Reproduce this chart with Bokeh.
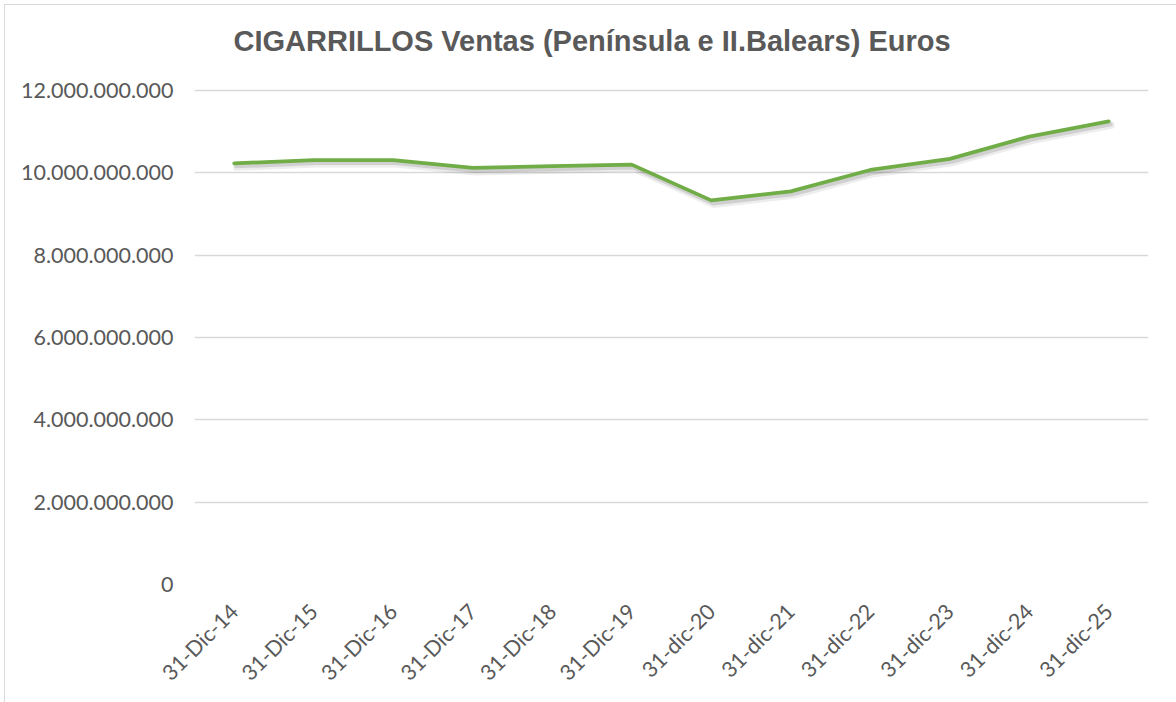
from bokeh.plotting import figure
from bokeh.models import ColumnDataSource, FactorRange, FixedTicker, Range1d, Label
from bokeh.transform import dodge
from bokeh.embed import file_html
from bokeh.resources import INLINE

# ---- data ----
categories = ["31-Dic-14", "31-Dic-15", "31-Dic-16", "31-Dic-17", "31-Dic-18", "31-Dic-19",
              "31-dic-20", "31-dic-21", "31-dic-22", "31-dic-23", "31-dic-24", "31-dic-25"]
ventas = [10.23e9, 10.31e9, 10.31e9, 10.12e9, 10.16e9, 10.20e9,
          9.33e9, 9.55e9, 10.07e9, 10.34e9, 10.88e9, 11.25e9]
y_ticks = [0, 2e9, 4e9, 6e9, 8e9, 10e9, 12e9]
y_tick_labels = ["0", "2.000.000.000", "4.000.000.000", "6.000.000.000",
                 "8.000.000.000", "10.000.000.000", "12.000.000.000"]
title_text = "CIGARRILLOS Ventas (Península e II.Balears) Euros"

Y_MAX = 12e9
W, H = 1176, 702
ML, MR, MT, MB = 194, 28, 10, 118
PLOT_TOP = 90                      # pixel row of the top gridline
plot_h = H - MB - PLOT_TOP
px = Y_MAX / plot_h
y_end = Y_MAX + (PLOT_TOP - MT) * px

src = ColumnDataSource(dict(x=categories, y=ventas))
shadow = ColumnDataSource(dict(x=categories,
                               y1=[v - 3 * px for v in ventas],
                               y2=[v - 4 * px for v in ventas]))

p = figure(width=W, height=H, x_range=FactorRange(factors=categories),
           y_range=Range1d(0, y_end), output_backend="svg", toolbar_location=None,
           min_border_left=ML, min_border_right=MR, min_border_top=MT, min_border_bottom=MB)
p.outline_line_color = None
p.border_fill_color = None
p.styles = {
    "background": ("linear-gradient(#d9d9d9,#d9d9d9) 4px 4px / 1px 100% no-repeat, "
                   "linear-gradient(#d9d9d9,#d9d9d9) 4px 4px / 100% 1px no-repeat, white"),
}

# title (x from frame left, y up from frame bottom)
p.add_layout(Label(x=39, y=H - MB - 40, x_units="screen", y_units="screen",
                   text=title_text, text_font="Liberation Sans", text_font_size="29px",
                   text_font_style="bold", text_color="#595959",
                   text_baseline="alphabetic", text_align="left"))

# shadow
p.line(x=dodge("x", 0.03, range=p.x_range), y="y2", source=shadow, line_color="#000000",
       line_alpha=0.07, line_width=7, line_join="round", line_cap="round")
p.line(x=dodge("x", 0.025, range=p.x_range), y="y1", source=shadow, line_color="#000000",
       line_alpha=0.12, line_width=4, line_join="round", line_cap="round")
# main line
p.line(x="x", y="y", source=src, line_color="#70AD47", line_width=3.75,
       line_join="round", line_cap="round")

p.xgrid.grid_line_color = None
p.ygrid.grid_line_color = "#d9d9d9"
p.ygrid.grid_line_width = 1.5

p.yaxis.ticker = FixedTicker(ticks=y_ticks)
p.yaxis.major_label_overrides = {t: l for t, l in zip(y_ticks, y_tick_labels)}
for ax in (p.xaxis, p.yaxis):
    ax.axis_line_color = None
    ax.major_tick_line_color = None
    ax.minor_tick_line_color = None
    ax.major_label_text_font = "Lato"
    ax.major_label_text_font_size = "21.5px"
    ax.major_label_text_color = "#595959"
p.yaxis.major_label_standoff = 15
p.xaxis.major_label_orientation = 0.785398
p.xaxis.major_label_standoff = 17

open("out.html", "w").write(file_html(p, INLINE))
